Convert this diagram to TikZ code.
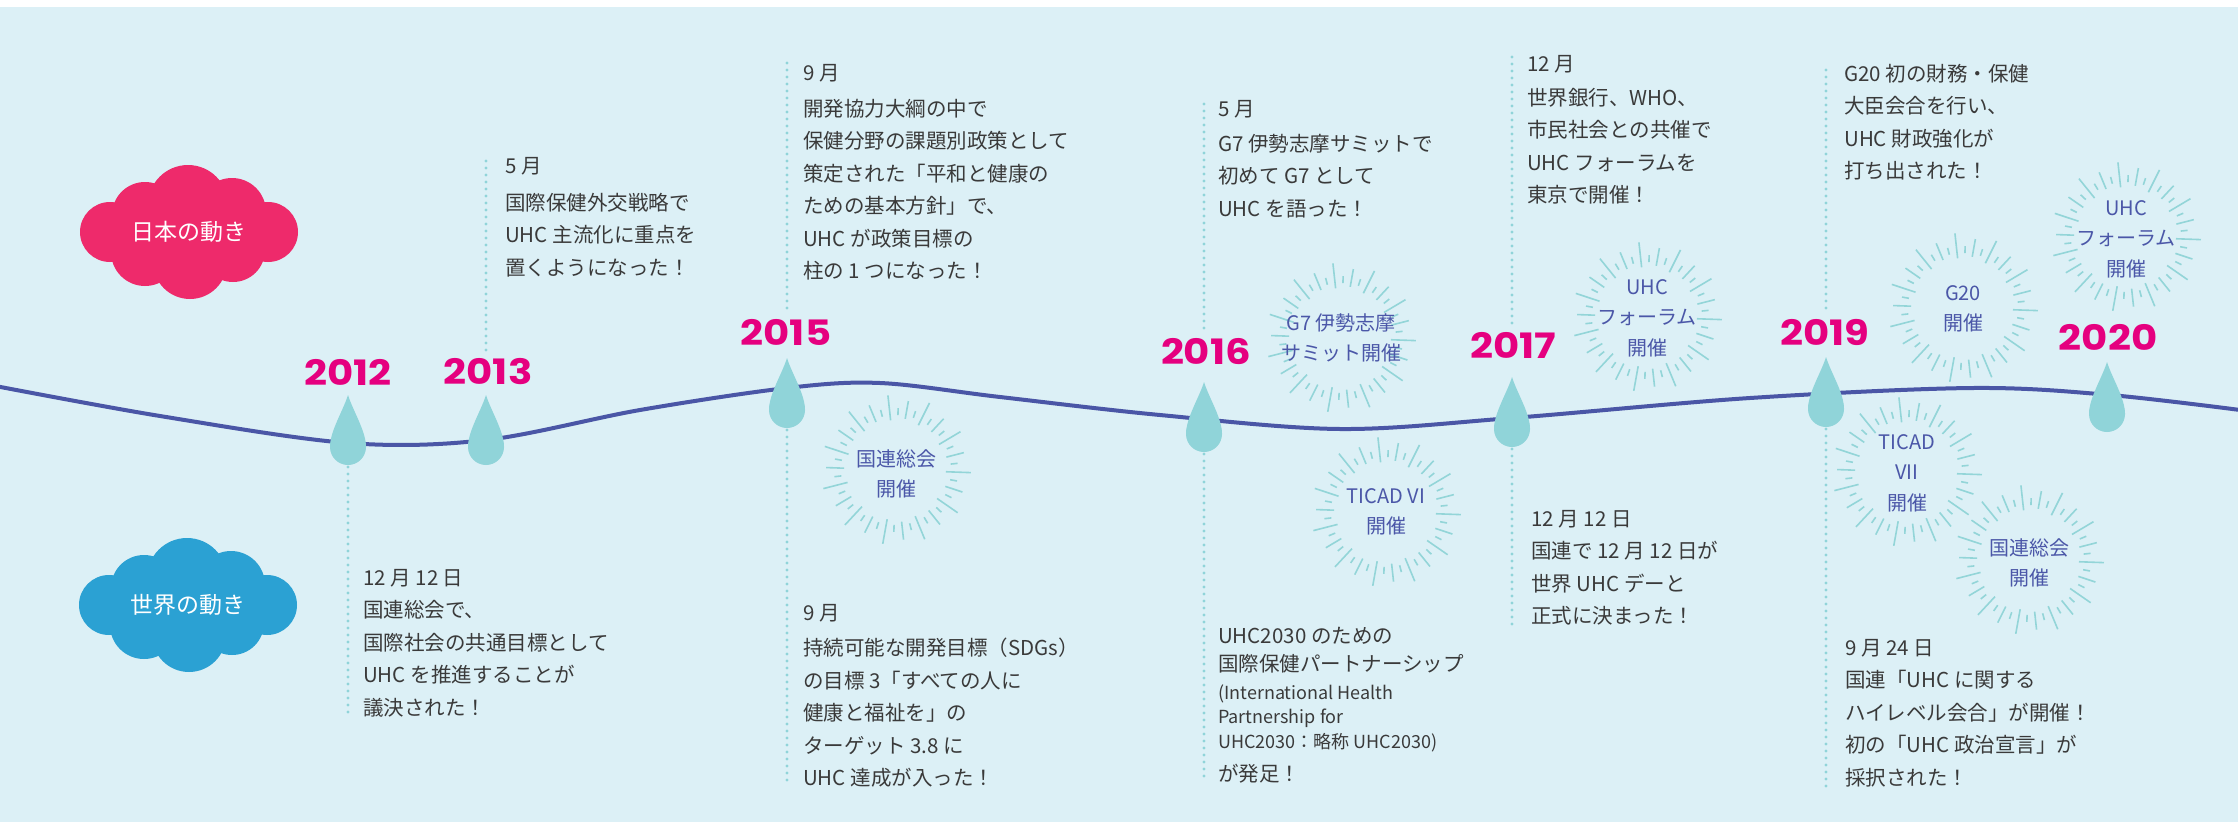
\documentclass[tikz,border=0pt]{standalone}
\usepackage{graphicx}
\usepackage{fontspec}
\setmainfont{Noto Sans CJK JP}
\newfontfamily\yearfont{Poppins}

\definecolor{bgblue}{HTML}{DCF0F6}
\definecolor{timeline}{HTML}{4A56A6}
\definecolor{dropteal}{HTML}{90D4D9}
\definecolor{yearpink}{HTML}{E5007F}
\definecolor{cloudpink}{HTML}{EE2A6B}
\definecolor{cloudblue}{HTML}{2BA1D3}
\definecolor{bursttext}{HTML}{4B57A8}
\definecolor{rayteal}{HTML}{93D5D8}
\definecolor{bodytext}{HTML}{3A3A3A}

% strut that fixes the top of the first line of a text block
\newcommand\firststrut{\rule{0pt}{20pt}}
\newcommand\smallstrut{\rule{0pt}{17pt}}
% year numbers, set slightly wide
\newcommand\yeartext[1]{\scalebox{1.15}[1]{#1}}

\tikzset{
  yearlabel/.style={font=\yearfont\bfseries\fontsize{35}{35}\selectfont, text=yearpink, inner sep=0},
  body/.style={anchor=north west, inner sep=0, align=left, text=bodytext,
    font=\fontsize{20.5}{32.5}\selectfont},
  bodysmall/.style={anchor=north west, inner sep=0, align=left, text=bodytext,
    font=\fontsize{18}{24.5}\selectfont},
  bursttxt/.style={align=center, text=bursttext, inner sep=0,
    font=\fontsize{20}{30.5}\selectfont},
  cloudtxt/.style={text=white, inner sep=0, font=\fontsize{23}{23}\selectfont},
  leader/.style={draw=dropteal, line width=3.2pt, line cap=round, dash pattern=on 0pt off 7pt},
  raydraw/.style={draw=rayteal, line width=1.6pt},
  drop/.pic={
    \fill[dropteal] (0,0) .. controls (5,16) and (18,36) .. (18,52)
      -- (-18,52) .. controls (-18,36) and (-5,16) .. (0,0);
    \fill[dropteal] (0,52) circle[radius=18];
  },
  burst/.pic={
    \foreach \i in {0,...,43}{
      \pgfmathsetmacro\ang{\i*360/44+2}
      \pgfmathtruncatemacro\k{mod(\i,4)}
      \ifcase\k \def\ri{50}\def\ro{75}\or \def\ri{55}\def\ro{62}\or
        \def\ri{52}\def\ro{70}\or \def\ri{55}\def\ro{62}\fi
      \draw[raydraw] (\ang:\ri) -- (\ang:\ro);
    }
  },
  cloud/.pic={
    \fill (-79,0) circle[radius=30];
    \fill (79,0) circle[radius=30];
    \fill (-44,-17) circle[radius=33];
    \fill (-1,-27) circle[radius=40];
    \fill (43,-20) circle[radius=34];
    \fill (-44,20) circle[radius=34];
    \fill (1,30) circle[radius=37];
    \fill (44,18) circle[radius=32];
    \fill (0,0) ellipse[x radius=75, y radius=40];
  }
}

\begin{document}
\begin{tikzpicture}[x=1pt, y=-1pt]
\useasboundingbox (0,0) rectangle (2238,822);
\fill[white] (0,0) rectangle (2238,822);
\fill[bgblue] (0,7) rectangle (2238,822);

% timeline
\draw[timeline, line width=4pt] plot[smooth, tension=0.55] coordinates {
  (-10,385) (160,416) (348,443) (486,440) (640,410) (787,388) (880,383)
  (1000,397) (1160,415) (1340,429) (1512,418) (1750,398) (1973,388)
  (2110,395) (2248,411)};

% clouds
\pic[cloudpink] at (189,232) {cloud};
\node[cloudtxt] (jp) at (189,232) {日本の動き};
\pic[cloudblue] at (188,605) {cloud};
\node[cloudtxt] (world) at (188,605) {世界の動き};

% bursts
\pic at (896,470) {burst};
\node[bursttxt] (b15) at (896,474) {国連総会\\開催};
\pic at (1341,338) {burst};
\node[bursttxt] (b16a) at (1341,338) {G7 伊勢志摩\\サミット開催};
\pic at (1386,512) {burst};
\node[bursttxt] (b16b) at (1386,512) {TICAD VI\\開催};
\pic at (1647,317) {burst};
\node[bursttxt] (b17) at (1647,318) {UHC\\フォーラム\\開催};
\pic at (1963,308) {burst};
\node[bursttxt] (b19a) at (1963,309) {G20\\開催};
\pic at (1907,472) {burst};
\node[bursttxt] (b19b) at (1907,473) {TICAD\\VII\\開催};
\pic at (2029,560) {burst};
\node[bursttxt] (b19c) at (2029,563) {国連総会\\開催};
\pic at (2126,237) {burst};
\node[bursttxt] (b20) at (2126,239) {UHC\\フォーラム\\開催};

% drop anchors and leader ends
\coordinate (d12) at (348,395);   \coordinate (d12b) at (348,467);
\coordinate (d13) at (486,395);
\coordinate (d15) at (787,358);   \coordinate (d15b) at (787,430);
\coordinate (d16) at (1204,382);  \coordinate (d16b) at (1204,454);
\coordinate (d17) at (1512,377);  \coordinate (d17b) at (1512,449);
\coordinate (d19) at (1826,357);  \coordinate (d19b) at (1826,429);
\coordinate (d20) at (2107,362);

\coordinate (e12) at (348,717);
\coordinate (e13a) at (486,350);  \coordinate (e13) at (486,155);
\coordinate (e15a) at (787,308);  \coordinate (e15) at (787,62);
\coordinate (e15c) at (787,786);
\coordinate (e16a) at (1204,328); \coordinate (e16) at (1204,97);
\coordinate (e16c) at (1204,777);
\coordinate (e17a) at (1512,323); \coordinate (e17) at (1512,54);
\coordinate (e17c) at (1512,628);
\coordinate (e19a) at (1826,308); \coordinate (e19) at (1826,63);
\coordinate (e19c) at (1826,787);

\draw[leader] (d12b) -- (e12);
\draw[leader] (e13a) -- (e13);
\draw[leader] (e15a) -- (e15);
\draw[leader] (d15b) -- (e15c);
\draw[leader] (e16a) -- (e16);
\draw[leader] (d16b) -- (e16c);
\draw[leader] (e17a) -- (e17);
\draw[leader] (d17b) -- (e17c);
\draw[leader] (e19a) -- (e19);
\draw[leader] (d19b) -- (e19c);

% drops
\foreach \d in {d12,d13,d15,d16,d17,d19,d20} { \pic at (\d) {drop}; }

% years
\node[yearlabel] (y12) at (348,372) {\yeartext{2012}};
\node[yearlabel] (y13) at (488,372) {\yeartext{2013}};
\node[yearlabel] (y15) at (786,332) {\yeartext{2015}};
\node[yearlabel] (y16) at (1206,352) {\yeartext{2016}};
\node[yearlabel] (y17) at (1513,345) {\yeartext{2017}};
\node[yearlabel] (y19) at (1825,332) {\yeartext{2019}};
\node[yearlabel] (y20) at (2108,337) {\yeartext{2020}};

% events in Japan
\node[body] (t13) at (505,152.8) {\firststrut 5 月\\[4.5pt]
  国際保健外交戦略で\\UHC 主流化に重点を\\置くようになった！};
\node[body] (t15) at (803,59.8) {\firststrut 9 月\\[3.5pt]
  開発協力大綱の中で\\保健分野の課題別政策として\\策定された「平和と健康の\\
  ための基本方針」で、\\UHC が政策目標の\\柱の 1 つになった！};
\node[body] (t16) at (1218,95.8) {\firststrut 5 月\\[2.5pt]
  G7 伊勢志摩サミットで\\初めて G7 として\\UHC を語った！};
\node[body] (t17) at (1527,50.8) {\firststrut 12 月\\[1.5pt]
  世界銀行、WHO、\\市民社会との共催で\\UHC フォーラムを\\東京で開催！};
\node[body] (t19) at (1844,60.8) {\firststrut G20 初の財務・保健\\
  大臣会合を行い、\\UHC 財政強化が\\打ち出された！};

% events in the world
\node[body] (w12) at (363,564.8) {\firststrut 12 月 12 日\\国連総会で、\\
  国際社会の共通目標として\\UHC を推進することが\\議決された！};
\node[body] (w15) at (803,599.8) {\firststrut 9 月\\[3pt]
  持続可能な開発目標（SDGs）\\の目標 3「すべての人に\\健康と福祉を」の\\
  ターゲット 3.8 に\\UHC 達成が入った！};
\node[body] (w16) at (1218,622.8) {\firststrut UHC2030 のための\\[-4.5pt]
  国際保健パートナーシップ};
\node[bodysmall] (w16s) at (1218,682) {\smallstrut (International Health\\
  Partnership for\\UHC2030：略称 UHC2030)};
\node[body] (w16e) at (1218,760.8) {\firststrut が発足！};
\node[body] (w17) at (1531,505.8) {\firststrut 12 月 12 日\\
  国連で 12 月 12 日が\\世界 UHC デーと\\正式に決まった！};
\node[body] (w19) at (1845,634.8) {\firststrut 9 月 24 日\\
  国連「UHC に関する\\ハイレベル会合」が開催！\\初の「UHC 政治宣言」が\\採択された！};
\end{tikzpicture}
\end{document}
